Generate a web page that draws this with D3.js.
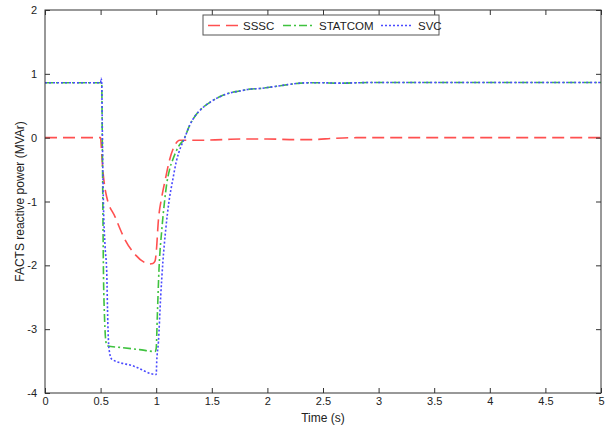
<!DOCTYPE html>
<html>
<head>
<meta charset="utf-8">
<script src="https://cdn.jsdelivr.net/npm/d3@7"></script>
<style>
  html, body { margin: 0; padding: 0; background: #fff; }
  svg { display: block; font-family: "Liberation Sans", Arial, sans-serif; }
</style>
</head>
<body>
<svg id="chart" width="612" height="428"></svg>
<script>
// Reactive power of three FACTS devices during and after a disturbance (0.5 s - 1.0 s)
const xTicks = [0, 0.5, 1, 1.5, 2, 2.5, 3, 3.5, 4, 4.5, 5];
const yTicks = [-4, -3, -2, -1, 0, 1, 2];

const seriesNames = ["SSSC", "STATCOM", "SVC"];

const timeSSSC = [0, 0.5, 0.505, 0.51, 0.52, 0.54, 0.555, 0.63, 0.72, 0.81, 0.9, 0.93, 0.97, 0.99, 1.0, 1.02, 1.05, 1.08, 1.12, 1.17, 1.21, 1.25, 1.4, 1.6, 1.8, 2.0, 2.2, 2.4, 2.6, 2.8, 3.0, 5.0];
const valSSSC  = [0, 0, -0.1, -0.25, -0.5, -0.8, -0.93, -1.24, -1.6, -1.83, -1.96, -1.98, -1.97, -1.93, -1.8, -1.29, -0.93, -0.67, -0.35, -0.11, -0.04, -0.04, -0.04, -0.03, -0.02, -0.02, -0.03, -0.03, -0.01, 0, 0, 0];

const timeSTATCOM = [0, 0.5, 0.51, 0.515, 0.52, 0.525, 0.535, 0.55, 0.56, 0.7, 0.85, 0.99, 1.0, 1.01, 1.025, 1.05, 1.075, 1.095, 1.12, 1.15, 1.2, 1.25, 1.3, 1.35, 1.4, 1.48, 1.57, 1.66, 1.75, 1.84, 1.93, 2.02, 2.1, 2.2, 2.3, 2.4, 2.5, 2.6, 2.7, 2.8, 3.0, 5.0];
const valSTATCOM  = [0.86, 0.86, 0.86, 0, -1.0, -2.0, -2.8, -3.22, -3.26, -3.29, -3.32, -3.35, -3.3, -2.8, -2.07, -1.45, -1.0, -0.72, -0.5, -0.34, -0.14, -0.02, 0.19, 0.34, 0.44, 0.55, 0.64, 0.70, 0.73, 0.76, 0.77, 0.79, 0.81, 0.835, 0.855, 0.86, 0.86, 0.855, 0.855, 0.86, 0.865, 0.865];

const timeSVC = [0, 0.5, 0.505, 0.51, 0.515, 0.52, 0.525, 0.54, 0.555, 0.565, 0.575, 0.6, 0.8, 1.0, 1.005, 1.02, 1.04, 1.06, 1.085, 1.115, 1.15, 1.18, 1.22, 1.25, 1.3, 1.35, 1.4, 1.48, 1.57, 1.66, 1.75, 1.84, 1.93, 2.02, 2.1, 2.2, 2.3, 2.4, 2.5, 2.6, 2.7, 2.8, 3.0, 5.0];
const valSVC  = [0.86, 0.86, 0.93, 0.86, 0.2, -0.5, -1.0, -1.7, -2.1, -2.9, -3.3, -3.47, -3.58, -3.71, -3.5, -3.2, -2.5, -1.95, -1.45, -1.0, -0.65, -0.38, -0.15, -0.03, 0.19, 0.34, 0.44, 0.55, 0.64, 0.70, 0.73, 0.76, 0.77, 0.79, 0.81, 0.835, 0.855, 0.86, 0.86, 0.855, 0.855, 0.86, 0.865, 0.865];

const svg = d3.select("#chart");
const margin = { left: 45, right: 11, top: 10, bottom: 35 };
const W = 612, H = 428;

const x = d3.scaleLinear().domain([0, 5]).range([margin.left, W - margin.right]);
const y = d3.scaleLinear().domain([-4, 2]).range([H - margin.bottom, margin.top]);

const series = [
  { name: seriesNames[0], t: timeSSSC, v: valSSSC, color: "#ff5050", dash: "12,6" },
  { name: seriesNames[1], t: timeSTATCOM, v: valSTATCOM, color: "#3fc23f", dash: "8,3,2,3" },
  { name: seriesNames[2], t: timeSVC, v: valSVC, color: "#4a4aff", dash: "2,2" }
];

const line = d3.line()
  .x(d => x(d[0]))
  .y(d => y(d[1]))
  .curve(d3.curveMonotoneX);

const clipId = "plot-clip";
svg.append("defs").append("clipPath").attr("id", clipId)
  .append("rect")
  .attr("x", x(0)).attr("y", y(2))
  .attr("width", x(5) - x(0)).attr("height", y(-4) - y(2));

// Series drawn in legend order, so the SVC trace lies on top
const plot = svg.append("g");
plot.selectAll("path.series")
  .data(series)
  .join("path")
  .attr("class", "series")
  .attr("clip-path", `url(#${clipId})`)
  .attr("d", s => line(d3.zip(s.t, s.v)))
  .attr("fill", "none")
  .attr("stroke", s => s.color)
  .attr("stroke-width", 1.6)
  .attr("stroke-dasharray", s => s.dash);

// Axes with inward ticks on all four sides of the box
const tickFmt = d => String(d);
const axisColor = "#333";

const gBottom = svg.append("g")
  .attr("transform", `translate(0,${y(-4)})`)
  .call(d3.axisBottom(x).tickValues(xTicks).tickFormat(tickFmt).tickSizeInner(-5).tickSizeOuter(0).tickPadding(4));
const gTop = svg.append("g")
  .attr("transform", `translate(0,${y(2)})`)
  .call(d3.axisTop(x).tickValues(xTicks).tickFormat("").tickSizeInner(-5).tickSizeOuter(0));
const gLeft = svg.append("g")
  .attr("transform", `translate(${x(0)},0)`)
  .call(d3.axisLeft(y).tickValues(yTicks).tickFormat(tickFmt).tickSizeInner(-5).tickSizeOuter(0).tickPadding(8));
const gRight = svg.append("g")
  .attr("transform", `translate(${x(5)},0)`)
  .call(d3.axisRight(y).tickValues(yTicks).tickFormat("").tickSizeInner(-5).tickSizeOuter(0));

[gBottom, gTop, gLeft, gRight].forEach(g => {
  g.select(".domain").remove();
  g.selectAll(".tick line").attr("stroke", axisColor);
  g.selectAll(".tick text")
    .attr("fill", "#222")
    .attr("font-size", 11)
    .attr("font-family", "'Liberation Sans', Arial, sans-serif");
});

svg.append("rect")
  .attr("x", x(0)).attr("y", y(2))
  .attr("width", x(5) - x(0)).attr("height", y(-4) - y(2))
  .attr("fill", "none")
  .attr("stroke", axisColor)
  .attr("stroke-width", 1);

// Axis titles
svg.append("text")
  .attr("x", (x(0) + x(5)) / 2)
  .attr("y", 422)
  .attr("text-anchor", "middle")
  .attr("font-size", 12)
  .attr("fill", "#222")
  .text("Time (s)");

svg.append("text")
  .attr("transform", `translate(24,${(y(2) + y(-4)) / 2}) rotate(-90)`)
  .attr("text-anchor", "middle")
  .attr("font-size", 12)
  .attr("fill", "#222")
  .text("FACTS reactive power (MVAr)");

// Legend
const legend = svg.append("g");
legend.append("rect")
  .attr("x", 203).attr("y", 15)
  .attr("width", 236).attr("height", 20)
  .attr("fill", "#fff")
  .attr("stroke", "#555")
  .attr("stroke-width", 1);

const legendItems = [
  { s: series[0], lx: 208, tx: 243 },
  { s: series[1], lx: 283, tx: 319 },
  { s: series[2], lx: 381, tx: 418 }
];
legendItems.forEach(it => {
  legend.append("line")
    .attr("x1", it.lx).attr("x2", it.lx + 31)
    .attr("y1", 25.5).attr("y2", 25.5)
    .attr("stroke", it.s.color)
    .attr("stroke-width", 1.6)
    .attr("stroke-dasharray", it.s.dash);
  legend.append("text")
    .attr("x", it.tx).attr("y", 29.5)
    .attr("font-size", 11.5)
    .attr("fill", "#222")
    .text(it.s.name);
});
</script>
</body>
</html>
